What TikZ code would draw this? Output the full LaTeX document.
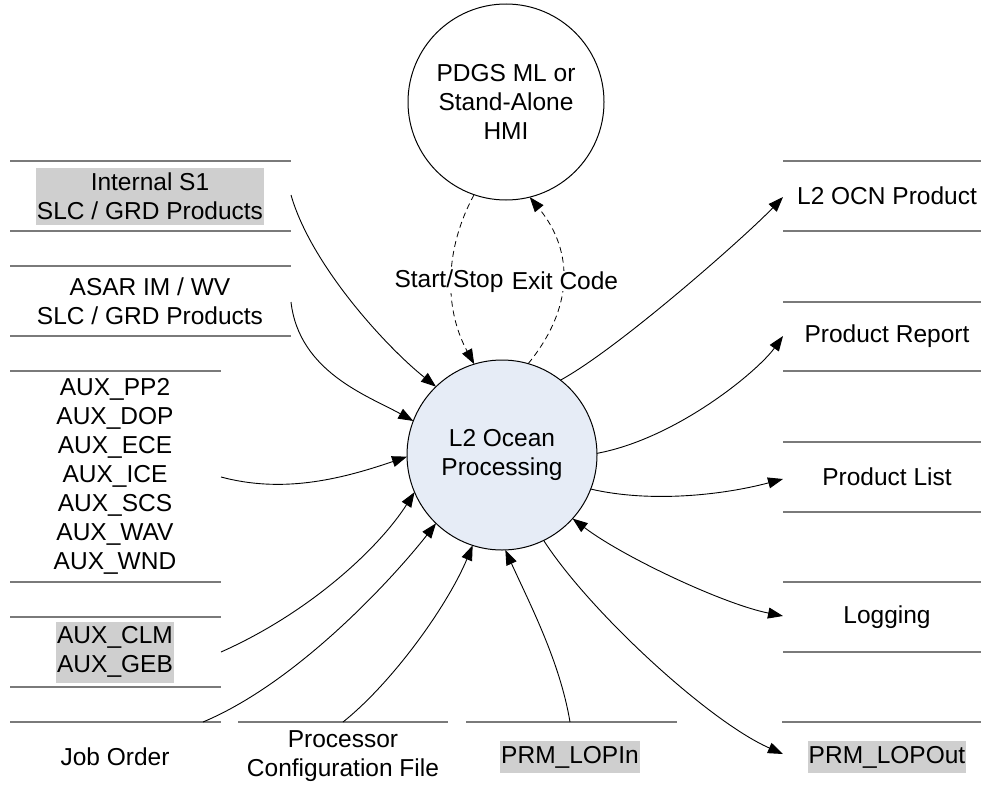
\documentclass[tikz,border=0pt]{standalone}
\usepackage{fontspec}
\setmainfont{Liberation Sans}
\usetikzlibrary{arrows.meta}
\definecolor{procfill}{HTML}{E6ECF6}
\definecolor{storeline}{HTML}{7A7A7A}
\definecolor{hl}{HTML}{CFCFCF}
\begin{document}
\begin{tikzpicture}[x=1pt,y=-1pt,
  >={Triangle[length=15pt,width=11pt]},
  lbl/.style={font=\fontsize{24.5pt}{29pt}\selectfont, align=center, inner sep=1pt},
  hlbl/.style={lbl, fill=hl, inner xsep=1pt, inner ysep=5pt},
  sline/.style={draw=storeline, line width=1.3pt},
  flow/.style={draw, line width=0.9pt, ->},
  ctrl/.style={draw, line width=0.8pt, dash pattern=on 6pt off 4pt, ->},
  proc/.style={lbl, circle, draw, line width=1pt, inner sep=0pt, outer sep=0pt}]

\useasboundingbox (0,0) rectangle (981,787);

% processes
\node[proc, fill=procfill, minimum size=190pt] (ocean) at (502,455) {L2 Ocean\\Processing};
\node[proc, minimum size=196pt] (hmi) at (506,102) {PDGS ML or\\Stand-Alone\\HMI};

% left data stores
\draw[sline] (10,161) -- (291,161);
\draw[sline] (10,231) -- (291,231);
\draw[sline] (10,266) -- (291,266);
\draw[sline] (10,336) -- (291,336);
\draw[sline] (10,371) -- (221,371);
\draw[sline] (10,582) -- (221,582);
\draw[sline] (10,617) -- (221,617);
\draw[sline] (10,687) -- (221,687);
\draw[sline] (10,722) -- (221,722);
\draw[sline] (238,722) -- (448,722);
\draw[sline] (466,722) -- (677,722);

% right data stores
\draw[sline] (783,161) -- (981,161);
\draw[sline] (783,231) -- (981,231);
\draw[sline] (783,302) -- (981,302);
\draw[sline] (783,371) -- (981,371);
\draw[sline] (783,442) -- (981,442);
\draw[sline] (783,512) -- (981,512);
\draw[sline] (783,582) -- (981,582);
\draw[sline] (783,652) -- (981,652);
\draw[sline] (782,722) -- (981,722);

% store labels
\node[hlbl] (s1) at (150,196) {Internal S1\\SLC / GRD Products};
\node[lbl] (asar) at (150,301) {ASAR IM / WV\\SLC / GRD Products};
\node[lbl] (aux) at (115,476) {AUX\_PP2\\AUX\_DOP\\AUX\_ECE\\AUX\_ICE\\AUX\_SCS\\AUX\_WAV\\AUX\_WND};
\node[hlbl] (clm) at (115,652) {AUX\_CLM\\AUX\_GEB};
\node[lbl] (job) at (115,757) {Job Order};
\node[lbl] (pcf) at (343,756) {Processor\\Configuration File};
\node[hlbl] (lopin) at (570,757) {PRM\_LOPIn};
\node[lbl] (ocn) at (887,196) {L2 OCN Product};
\node[lbl] (rep) at (887,336) {Product Report};
\node[lbl] (list) at (887,477) {Product List};
\node[lbl] (log) at (887,617) {Logging};
\node[hlbl] (lopout) at (887,757) {PRM\_LOPOut};

% connector ends at the stores
\coordinate (s1e) at (291,195);
\coordinate (asare) at (291,302);
\coordinate (auxe) at (221,477);
\coordinate (clme) at (221,652);
\coordinate (jobe) at (203,722);
\coordinate (pcfe) at (343,722);
\coordinate (lopine) at (570,722);
\coordinate (ocne) at (783,197);
\coordinate (repe) at (783,336);
\coordinate (liste) at (783,479);
\coordinate (loge) at (783,616);
\coordinate (lopoute) at (783,754);

% inputs
\draw[flow] (s1e) .. controls +(20,70) and +(-50,-40) .. (ocean.134);
\draw[flow] (asare) .. controls +(8,70) and +(-45,-25) .. (ocean.159);
\draw[flow] (auxe) .. controls +(60,16) and +(-70,24) .. (ocean.181);
\draw[flow] (clme) .. controls +(90,-40) and +(-35,55) .. (ocean.203);
\draw[flow] (jobe) .. controls +(100,-42) and +(-35,45) .. (ocean.226);
\draw[flow] (pcfe) .. controls +(50,-40) and +(-25,60) .. (ocean.252);
\draw[flow] (lopine) .. controls +(-10,-60) and +(25,55) .. (ocean.272);

% outputs
\draw[flow] (ocean.52) .. controls +(60,-33) and +(-35,37) .. (ocne);
\draw[flow] (ocean.1) .. controls +(80,-15) and +(-25,35) .. (repe);
\draw[flow] (ocean.-21) .. controls +(60,14) and +(-60,16) .. (liste);
\draw[flow, <->] (ocean.-42) .. controls +(50,38) and +(-60,-12) .. (loge);
\draw[flow] (ocean.-64) .. controls +(45,70) and +(-75,-33) .. (lopoute);

% control flows
\draw[ctrl] (hmi.-109) .. controls +(-30,55) and +(-30,-55) .. (ocean.107);
\draw[ctrl] (ocean.74) .. controls +(45,-55) and +(45,55) .. (hmi.-76);
\node[lbl, fill=white] (lss) at (449,281) {Start/Stop};
\node[lbl, fill=white] (lec) at (565,281) {Exit Code};
\end{tikzpicture}
\end{document}
